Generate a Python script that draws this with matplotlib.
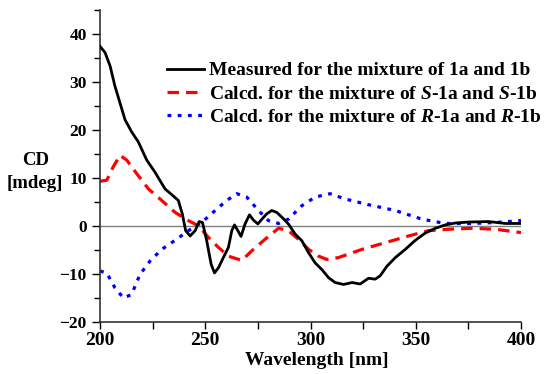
import numpy as np
import matplotlib.pyplot as plt

plt.rcParams['font.family'] = 'Liberation Serif'
plt.rcParams['font.weight'] = 'bold'
plt.rcParams['mathtext.fontset'] = 'custom'
plt.rcParams['mathtext.bfit'] = 'Liberation Serif:italic:bold'

# measured CD, mixture of 1a and 1b
wl_meas = [200, 202.4, 204.8, 207.1, 209.5, 211.9, 215, 218.2, 222.2, 226.1, 230.9, 234.1,
           237.2, 239.1, 240.7, 242.8, 245.2, 247.1, 248.7, 250.7, 252.8, 254.4, 256.3, 258.6,
           261, 262.6, 263.9, 265.5, 267, 268.9, 271, 272.9, 275, 276.9, 279.2, 281.6, 284,
           286.4, 289.5, 292.7, 295.9, 299.1, 302.2, 305.4, 308.6, 311.7, 315.7, 319.7, 323.6,
           327.6, 330.7, 333.1, 336.3, 340.3, 345, 349.8, 354.5, 359.3, 364, 368.8, 375.1,
           384.6, 392.6, 400]
cd_meas = [37.5, 36.2, 33.4, 29.2, 25.7, 22.2, 19.7, 17.6, 13.8, 11.3, 7.8, 6.6,
           5.4, 2.6, -0.9, -2.0, -0.9, 1.0, 0.8, -3.0, -7.9, -9.7, -8.6, -6.5,
           -4.4, -0.9, 0.3, -0.9, -2.1, 0.5, 2.4, 1.3, 0.5, 1.5, 2.6, 3.3, 2.9,
           1.9, 0.5, -1.6, -3.0, -5.5, -7.6, -9.0, -10.7, -11.7, -12.1, -11.7, -12.0,
           -10.8, -11.0, -10.3, -8.3, -6.5, -4.8, -2.9, -1.4, -0.4, 0.3, 0.7, 0.9,
           1.0, 0.6, 0.6]

# calculated, S-1a and S-1b
wl_s = [200, 203.2, 206.3, 209.5, 212.7, 217.4, 223, 229.3, 235.7, 242, 246.8, 251.5,
        256.3, 261, 267.4, 272.1, 278.4, 284.8, 289.5, 294.3, 299.1, 303.8, 307.8, 313.3,
        324.4, 335.5, 346.6, 356.1, 365.6, 376.7, 387.8, 400]
cd_s = [9.4, 9.6, 12.4, 14.8, 13.8, 11.0, 7.8, 5.4, 2.9, 1.2, 0.1, -2.3,
        -4.4, -6.2, -7.1, -5.1, -2.7, -0.4, -0.9, -2.7, -4.8, -6.2, -6.9, -6.5,
        -4.8, -3.4, -2.0, -0.9, -0.6, -0.4, -0.6, -1.3]

# calculated, R-1a and R-1b
wl_r = [200, 203.2, 207.1, 211.1, 215, 219, 223.8, 229.3, 235.7, 242, 248.3, 254.7,
        260.2, 265, 269.7, 275.3, 280, 284.8, 289.5, 295.9, 302.2, 309.3, 316.5, 327.6,
        340.3, 352.9, 364, 376.7, 387.8, 400]
cd_r = [-9.3, -9.7, -12.8, -14.9, -14.2, -10.0, -7.2, -4.8, -2.9, -0.9, 0.8, 3.3,
        5.4, 6.8, 6.1, 3.3, 1.2, 0.6, 1.5, 4.3, 6.1, 6.8, 5.7, 4.5,
        3.3, 1.5, 0.6, 0.6, 0.8, 1.2]

fig = plt.figure(figsize=(5.5, 3.74), dpi=100)
ax = fig.add_axes([0.1818, 0.138, 0.7655, 0.8345])

ax.axhline(0, color='#808080', lw=1.0, zorder=1)
ax.plot(wl_meas, cd_meas, color='black', lw=2.0, label='Measured for the mixture of 1a and 1b', zorder=3)
ax.plot(wl_s, cd_s, color='#ff0000', lw=2.3, dashes=(3.6, 2.2),
        label='Calcd. for the mixture of $\\mathbfit{S}$-1a and $\\mathbfit{S}$-1b', zorder=2)
ax.plot(wl_r, cd_r, color='#0000ff', lw=2.3, dashes=(1.2, 2.0),
        label='Calcd. for the mixture of $\\mathbfit{R}$-1a and $\\mathbfit{R}$-1b', zorder=2)

ax.set_xlim(200, 400)
ax.set_ylim(-20, 45)
ax.set_xticks([200, 250, 300, 350, 400])
ax.set_xticks([225, 275, 325, 375], minor=True)
ax.set_yticks([-20, -10, 0, 10, 20, 30, 40])
ax.set_yticks([-15, -5, 5, 15, 25, 35, 45], minor=True)
ax.tick_params(axis='x', which='both', direction='out', length=5, width=1, labelsize=14, pad=2)
ax.tick_params(axis='y', which='major', direction='out', length=6, width=1, labelsize=12.5)
ax.tick_params(axis='y', which='minor', direction='out', length=4, width=1)
for s in ['top', 'right']:
    ax.spines[s].set_visible(False)
for s in ['left', 'bottom']:
    ax.spines[s].set_linewidth(1.2)
    ax.spines[s].set_color('#333333')

ax.set_xlabel('Wavelength [nm]', fontsize=14, fontweight='bold')
ax.xaxis.set_label_coords(0.515, -0.095)
fig.text(0.064, 0.54, 'CD\n[mdeg]', ha='center', va='center', fontsize=13.5, fontweight='bold',
         linespacing=1.5)

leg = ax.legend(loc='upper left', bbox_to_anchor=(0.303, 0.835), bbox_transform=fig.transFigure,
                frameon=False, fontsize=14.0, handlelength=1.9, handletextpad=0.3,
                labelspacing=0.3, borderaxespad=0, borderpad=0)

fig.savefig('out.png', dpi=100)
